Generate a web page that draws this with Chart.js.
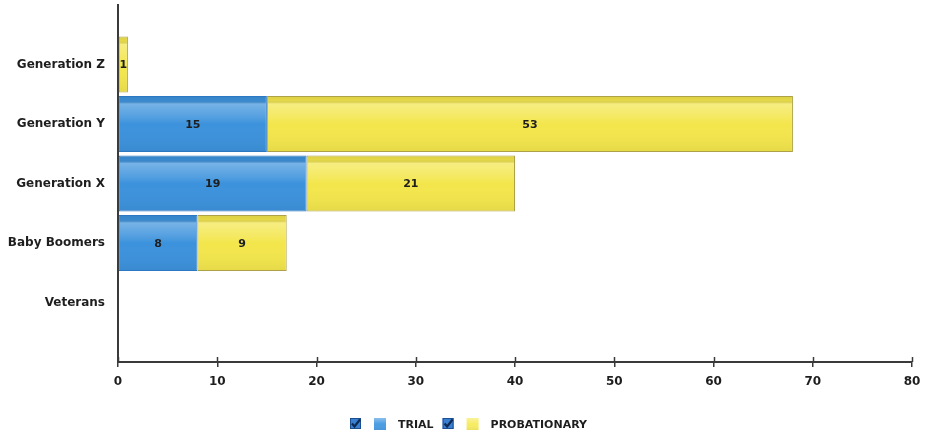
<!DOCTYPE html>
<html>
<head>
<meta charset="utf-8">
<script src="https://cdn.jsdelivr.net/npm/chart.js@4/dist/chart.umd.min.js"></script>
<style>
  html, body { margin: 0; padding: 0; background: #ffffff; }
  #wrap { width: 938px; height: 438px; }
</style>
</head>
<body>
<div id="wrap"><canvas id="genChart" width="938" height="438"></canvas></div>
<script>
// chart data
var categories = ['Generation Z', 'Generation Y', 'Generation X', 'Baby Boomers', 'Veterans'];
var trialValues = [0, 15, 19, 8, 0];
var probationaryValues = [1, 53, 21, 9, 0];
var xTicks = [0, 10, 20, 30, 40, 50, 60, 70, 80];

var FONT = '"DejaVu Sans", Verdana, sans-serif';
var TEXT = '#1e1e1e';
var AXIS = '#3a3a3a';

// an empty slot above and below the categories, like the original axis
function pad(arr, fill) {
    return [fill].concat(arr, [fill]);
}

// Draws the number inside every non-empty segment
var valueLabels = {
    id: 'valueLabels',
    afterDatasetsDraw: function(chart) {
        var ctx = chart.ctx;
        ctx.save();
        ctx.font = 'bold 11px ' + FONT;
        ctx.fillStyle = TEXT;
        ctx.textAlign = 'center';
        ctx.textBaseline = 'middle';
        chart.data.datasets.forEach(function(ds, di) {
            chart.getDatasetMeta(di).data.forEach(function(bar, i) {
                var v = ds.data[i];
                if (!v) return;
                var p = bar.getProps(['x', 'y', 'base'], true);
                ctx.fillText(String(v), (p.x + p.base) / 2, p.y + 1);
            });
        });
        ctx.restore();
    }
};

// Glossy look on the bars
var gloss = {
    id: 'gloss',
    afterDatasetsDraw: function(chart) {
        var ctx = chart.ctx;
        ctx.save();
        chart.data.datasets.forEach(function(ds, di) {
            chart.getDatasetMeta(di).data.forEach(function(bar, i) {
                if (!ds.data[i]) return;
                var p = bar.getProps(['x', 'y', 'base', 'height'], true);
                var top = p.y - p.height / 2;
                var left = Math.min(p.x, p.base);
                var w = Math.abs(p.x - p.base);
                var g = ctx.createLinearGradient(0, top, 0, top + p.height);
                g.addColorStop(0, 'rgba(0,0,0,0.10)');
                g.addColorStop(0.08, 'rgba(0,0,0,0.06)');
                g.addColorStop(0.14, 'rgba(255,255,255,0.30)');
                g.addColorStop(0.38, 'rgba(255,255,255,0.12)');
                g.addColorStop(0.5, 'rgba(255,255,255,0)');
                g.addColorStop(1, 'rgba(0,0,0,0.06)');
                ctx.fillStyle = g;
                ctx.fillRect(left + 1, top + 1, w - 2, p.height - 2);
            });
        });
        ctx.restore();
    }
};

// Tick marks that cross the x axis line
var crossTicks = {
    id: 'crossTicks',
    afterDraw: function(chart) {
        var ctx = chart.ctx;
        var xs = chart.scales.x;
        var bottom = chart.chartArea.bottom;
        ctx.save();
        ctx.strokeStyle = AXIS;
        ctx.lineWidth = 1.5;
        xTicks.forEach(function(t) {
            var px = Math.round(xs.getPixelForValue(t)) + 0.5;
            ctx.beginPath();
            ctx.moveTo(px, bottom - 5);
            ctx.lineTo(px, bottom);
            ctx.stroke();
        });
        ctx.restore();
    }
};

function drawCheckbox(ctx, x, y) {
    ctx.fillStyle = '#3a7fd0';
    ctx.fillRect(x, y, 11, 11);
    ctx.strokeStyle = '#1c4e92';
    ctx.lineWidth = 1;
    ctx.strokeRect(x + 0.5, y + 0.5, 10, 10);
    ctx.strokeStyle = '#0e2a55';
    ctx.lineWidth = 2.2;
    ctx.beginPath();
    ctx.moveTo(x + 2, y + 5.5);
    ctx.lineTo(x + 4.5, y + 8.5);
    ctx.lineTo(x + 10, y + 1.5);
    ctx.stroke();
}

// Legend: checkbox, colour square, label
var checkLegend = {
    id: 'checkLegend',
    afterDraw: function(chart) {
        var ctx = chart.ctx;
        ctx.save();
        ctx.font = 'bold 11px ' + FONT;
        var items = chart.data.datasets.map(function(ds) {
            return { label: ds.label, color: ds.legendColor, w: 11 + 13 + 12 + 12 + ctx.measureText(ds.label).width };
        });
        var gap = 9;
        var total = items.reduce(function(s, it) { return s + it.w; }, 0) + gap * (items.length - 1);
        var x = Math.round(chart.width / 2 - total / 2);
        var cy = 424;
        items.forEach(function(it) {
            drawCheckbox(ctx, x, cy - 6);
            var sx = x + 24;
            ctx.fillStyle = it.color;
            ctx.fillRect(sx, cy - 6, 12, 12);
            var g = ctx.createLinearGradient(0, cy - 6, 0, cy + 6);
            g.addColorStop(0, 'rgba(255,255,255,0.35)');
            g.addColorStop(0.5, 'rgba(255,255,255,0)');
            g.addColorStop(1, 'rgba(0,0,0,0.05)');
            ctx.fillStyle = g;
            ctx.fillRect(sx, cy - 6, 12, 12);
            ctx.fillStyle = TEXT;
            ctx.textAlign = 'left';
            ctx.textBaseline = 'middle';
            ctx.fillText(it.label, sx + 24, cy + 1);
            x += it.w + gap;
        });
        ctx.restore();
    }
};

new Chart(document.getElementById('genChart'), {
    type: 'bar',
    data: {
        labels: pad(categories, ''),
        datasets: [
            {
                label: 'TRIAL',
                data: pad(trialValues, null),
                backgroundColor: '#3c92dc',
                borderColor: '#2c78c2',
                legendColor: '#4c9de2',
                borderWidth: 1,
                borderSkipped: false
            },
            {
                label: 'PROBATIONARY',
                data: pad(probationaryValues, null),
                backgroundColor: '#f3e64c',
                borderColor: '#aea248',
                legendColor: '#f7ec64',
                borderWidth: 1,
                borderSkipped: false
            }
        ]
    },
    options: {
        indexAxis: 'y',
        responsive: false,
        animation: false,
        barPercentage: 1,
        categoryPercentage: 0.94,
        layout: { padding: { top: 5, right: 26, bottom: 46, left: 0 } },
        plugins: {
            legend: { display: false },
            tooltip: { enabled: false }
        },
        scales: {
            x: {
                stacked: true,
                min: 0,
                max: 80,
                afterFit: function(scale) { scale.height = 30; },
                afterBuildTicks: function(scale) {
                    scale.ticks = xTicks.map(function(v) { return { value: v }; });
                },
                grid: {
                    display: true,
                    drawOnChartArea: false,
                    drawTicks: true,
                    tickLength: 5,
                    color: AXIS,
                    lineWidth: 1.5
                },
                border: { display: true, color: AXIS, width: 2 },
                ticks: {
                    padding: 8,
                    color: TEXT,
                    font: { family: FONT, size: 12, weight: 'bold' }
                }
            },
            y: {
                stacked: true,
                offset: false,
                afterFit: function(scale) {
                    scale.width = 118;
                    scale.paddingTop = 0;
                    scale.paddingBottom = 0;
                },
                grid: { display: false, drawTicks: false },
                border: { display: true, color: AXIS, width: 2 },
                ticks: {
                    autoSkip: false,
                    padding: 13,
                    color: TEXT,
                    font: { family: FONT, size: 12, weight: 'bold' }
                }
            }
        }
    },
    plugins: [gloss, valueLabels, crossTicks, checkLegend]
});
</script>
</body>
</html>
